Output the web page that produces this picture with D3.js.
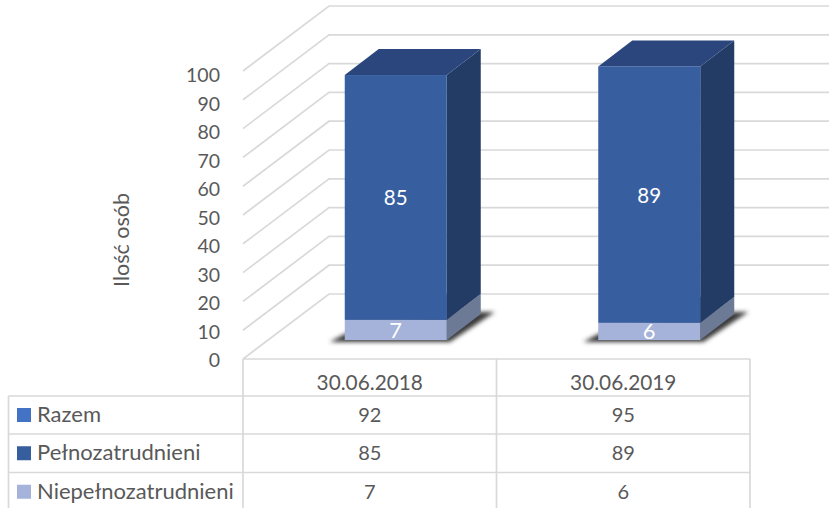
<!DOCTYPE html>
<html><head><meta charset="utf-8">
<script src="https://cdn.jsdelivr.net/npm/d3@7"></script>
<style>html,body{margin:0;padding:0;background:#fff;overflow:hidden}svg{display:block}text{font-family:Lato,"Open Sans",sans-serif}</style>
</head><body><svg id="c" width="829" height="508"></svg>
<script>
const categories = ["30.06.2018","30.06.2019"];
const seriesNames = ["Razem","Pełnozatrudnieni","Niepełnozatrudnieni"];
const razem = [92,95];
const pelno = [85,89];
const niepelno = [7,6];
const ticks = [0,10,20,30,40,50,60,70,80,90,100];
const legendColors = ["#4472C4","#365E9F","#A5B2D9"];
const axisTitle = "Ilość osób";

const svg = d3.select("#c");
const grey="#595959", grid="#D9D9D9";
const defs = svg.append("defs");
defs.append("filter").attr("id","blur").attr("x","-20%").attr("y","-50%").attr("width","140%").attr("height","200%")
  .append("feGaussianBlur").attr("stdDeviation",2);

// scales
const yFloor = d3.scaleLinear().domain([0,100]).range([359,71]);   // front edge of the floor
const yBack  = d3.scaleLinear().domain([0,100]).range([294,6]);    // back wall
const yBar   = d3.scaleLinear().domain([0,100]).range([340,52]);   // bar front face
const yLabel = d3.scaleLinear().domain([0,100]).range([367,82]);   // tick label baselines
const x = d3.scaleBand().domain(categories).range([243,750]);
const cx = c => x(c)+x.bandwidth()/2;
const wallL=329, frontL=243, wallR=829;
const barW=102, dx=34, dy=26, barShift=26;

// gridlines
const g = svg.append("g").attr("fill","none").attr("stroke",grid).attr("stroke-width",1.7);
g.selectAll("path").data(ticks).join("path")
  .attr("d",v=>`M${frontL},${yFloor(v)}L${wallL},${yBack(v)}H${wallR}`);

// tick labels
svg.append("g").selectAll("text").data(ticks).join("text")
  .attr("x",220).attr("y",v=>yLabel(v)).attr("text-anchor","end")
  .attr("font-size",19.5).attr("fill",grey).text(d=>d);
svg.append("text").attr("transform","translate(129,240) rotate(-90)").attr("text-anchor","middle")
  .attr("font-size",21.5).attr("fill",grey).text(axisTitle);

// bars
function box(sel,l,y0,y1,front,top,side){
  sel.append("path").attr("fill",side).attr("d",`M${l+barW},${y0}L${l+barW+dx},${y0-dy}V${y1-dy}L${l+barW},${y1}Z`);
  sel.append("path").attr("fill",top).attr("d",`M${l},${y1}L${l+dx},${y1-dy}H${l+barW+dx}L${l+barW},${y1}Z`);
  sel.append("rect").attr("x",l).attr("y",y1).attr("width",barW).attr("height",y0-y1).attr("fill",front);
}
categories.forEach((c,i)=>{
  const l = cx(c)+barShift-barW/2;
  const base=yBar(0), s=yBar(niepelno[i]), t=yBar(niepelno[i]+pelno[i]);
  const G = svg.append("g");
  G.append("path").attr("fill","#3a3a3a").attr("filter","url(#blur)")
    .attr("d",`M${l-15},${base+2}H${l+barW+3}L${l+barW+48},${base-28}H${l+barW}L${l},${base-6}Z`);
  box(G,l,base,s,"#A5B2D9","#6D7A96","#6D7A96");
  box(G,l,s,t,"#375E9F","#2A467C","#233C66");
  G.append("text").attr("x",l+barW/2).attr("y",(s+t)/2+8).attr("text-anchor","middle")
    .attr("font-size",20.5).attr("fill","#fff").text(pelno[i]);
  G.append("text").attr("x",l+barW/2).attr("y",(base+s)/2+8).attr("text-anchor","middle")
    .attr("font-size",22).attr("fill","#fff").text(niepelno[i]);
});

// data table
const rows=[359,396,434,472.5,511];
const tb = svg.append("g").attr("stroke",grid).attr("stroke-width",1.7).attr("fill","none");
tb.append("path").attr("d",`M243,${rows[0]}H750`);
rows.slice(1).forEach(r=>tb.append("path").attr("d",`M8.5,${r}H750`));
tb.append("path").attr("d",`M8.5,${rows[1]}V${rows[4]}`);
[243,496.5,750].forEach(v=>tb.append("path").attr("d",`M${v},${rows[0]}V${rows[4]}`));

const txt = (X,Y,t,a,fs)=>svg.append("text").attr("x",X).attr("y",Y).attr("text-anchor",a||"middle")
  .attr("font-size",fs||20).attr("fill",grey).text(t);
categories.forEach(c=>txt(cx(c),rows[0]+31,c,"middle",20.8));
const tableVals=[razem,pelno,niepelno];
seriesNames.forEach((n,i)=>{
  const yc=(rows[i+1]+rows[i+2])/2;
  svg.append("rect").attr("x",17).attr("y",yc-7).attr("width",14).attr("height",14).attr("fill",legendColors[i]);
  txt(37,yc+7,n,"start",22);
  categories.forEach((c,j)=>txt(cx(c),yc+7,tableVals[i][j]));
});
</script></body></html>
